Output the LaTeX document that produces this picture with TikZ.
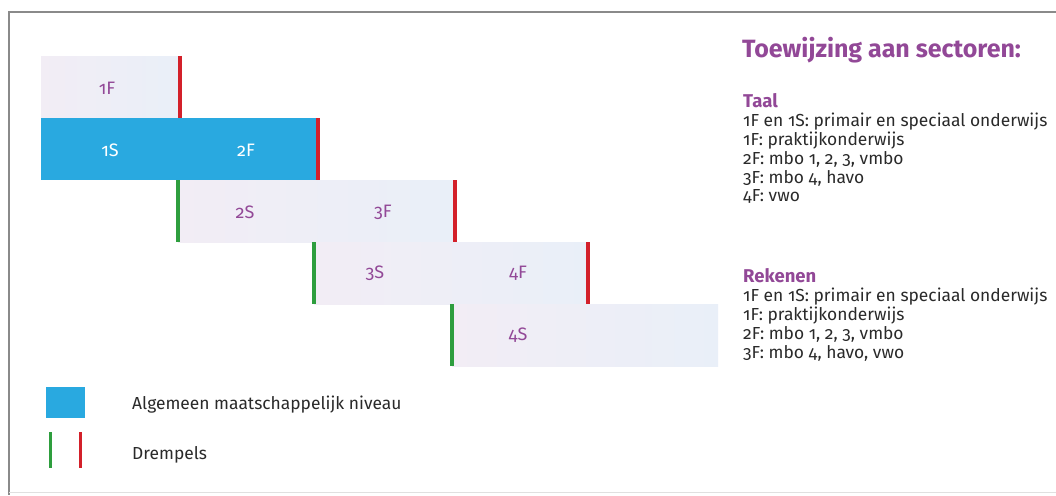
\documentclass[tikz,border=0pt]{standalone}
\usepackage{fontspec}
\setmainfont{Fira Sans}[Numbers=OldStyle]
\usetikzlibrary{positioning}
\definecolor{paars}{HTML}{924897}
\definecolor{balkblauw}{HTML}{29A9E0}
\definecolor{balkL}{HTML}{F2EDF5}
\definecolor{balkR}{HTML}{E9EFF8}
\definecolor{rood}{HTML}{D3202A}
\definecolor{groen}{HTML}{2E9E3E}
\definecolor{tekst}{HTML}{2A2A2A}
\definecolor{rand}{HTML}{8A8A8A}
\tikzset{
  balk/.style={anchor=north west, inner sep=0pt, minimum height=62pt, left color=balkL, right color=balkR},
  blauwbalk/.style={anchor=north west, inner sep=0pt, minimum height=62pt, fill=balkblauw},
  lbl/.style={text=paars, font=\fontsize{18}{20}\selectfont},
  wlbl/.style={text=white, font=\fontsize{18}{20}\selectfont},
  dremR/.style={draw=rood, line width=4pt},
  dremG/.style={draw=groen, line width=4pt},
  regel/.style={anchor=base west, inner sep=0pt, text=tekst, font=\fontsize{17.4}{19}\selectfont},
  kop/.style={anchor=base west, inner sep=0pt, text=paars, font=\fontsize{18.5}{21}\selectfont\bfseries}
}
\begin{document}
\begin{tikzpicture}[x=1pt,y=-1pt]
\useasboundingbox (0,0) rectangle (1056,495);
\fill[white] (0,0) rectangle (1056,495);
% kader
\draw[rand, line width=2pt] (1056,12) -- (9,12) -- (9,495);
\draw[black!12, line width=1pt] (9,492) -- (1056,492);
% balken
\node[balk, minimum width=139pt] (b1) at (41,56) {};
\node[blauwbalk, minimum width=277pt] (b2) at (41,118) {};
\node[balk, minimum width=277pt] (b3) at (178,180) {};
\node[balk, minimum width=274pt] (b4) at (314,242) {};
\node[balk, minimum width=266pt] (b5) at (452,304) {};
% niveaus
\node[lbl] (n1F) at (107,88) {1F};
\node[wlbl] (n1S) at (110,150) {1S};
\node[wlbl] (n2F) at (246,150) {2F};
\node[lbl] (n2S) at (245,212) {2S};
\node[lbl] (n3F) at (383,212) {3F};
\node[lbl] (n3S) at (375,273) {3S};
\node[lbl] (n4F) at (518,273) {4F};
\node[lbl] (n4S) at (518,335) {4S};
% drempels
\draw[dremR] (b1.north east) -- (b1.south east);
\draw[dremR] (b2.north east) -- (b2.south east);
\draw[dremR] (b3.north east) -- (b3.south east);
\draw[dremR] (b4.north east) -- (b4.south east);
\draw[dremG] (b3.north west) -- (b3.south west);
\draw[dremG] (b4.north west) -- (b4.south west);
\draw[dremG] (b5.north west) -- (b5.south west);
% legenda
\node[blauwbalk, minimum width=39pt, minimum height=31pt] (lgBlauw) at (46,387) {};
\node[regel] (lgTekst1) at (132,409) {Algemeen maatschappelijk niveau};
\draw[dremG, line width=3pt] (50,432) -- (50,468);
\draw[dremR, line width=3pt] (80,432) -- (80,468);
\node[regel] (lgTekst2) at (132,459) {Drempels};
% toewijzing
\node[kop, font=\fontsize{25}{28}\selectfont\bfseries] (titel) at (742,57) {Toewijzing aan sectoren:};
\node[kop] (taal) at (743,107) {Taal};
\node[regel] (t1) at (743,126) {1F en 1S: primair en speciaal onderwijs};
\node[regel] (t2) at (743,145) {1F: praktijkonderwijs};
\node[regel] (t3) at (743,164) {2F: mbo 1, 2, 3, vmbo};
\node[regel] (t4) at (743,183) {3F: mbo 4, havo};
\node[regel] (t5) at (743,201) {4F: vwo};
\node[kop] (reken) at (743,282) {Rekenen};
\node[regel] (r1) at (743,301) {1F en 1S: primair en speciaal onderwijs};
\node[regel] (r2) at (743,320) {1F: praktijkonderwijs};
\node[regel] (r3) at (743,339) {2F: mbo 1, 2, 3, vmbo};
\node[regel] (r4) at (743,358) {3F: mbo 4, havo, vwo};
\end{tikzpicture}
\end{document}
